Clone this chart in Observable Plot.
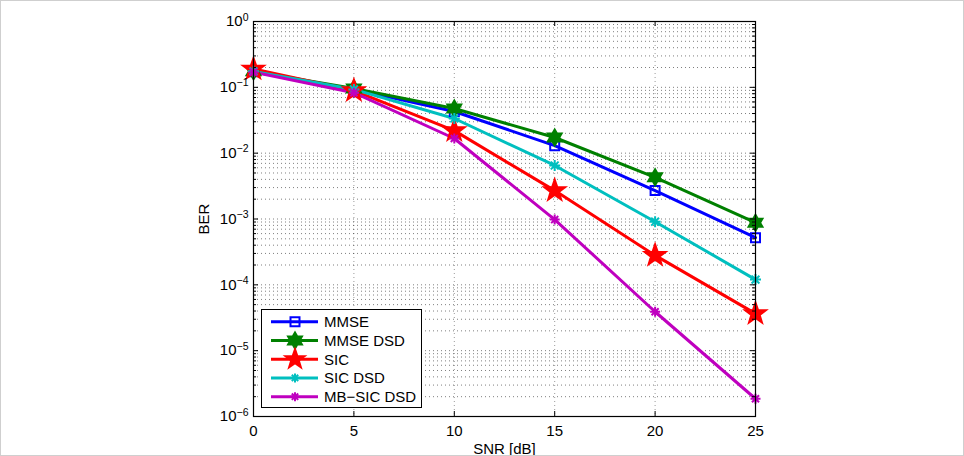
<!DOCTYPE html>
<html><head><meta charset="utf-8">
<script src="https://cdn.jsdelivr.net/npm/d3@7"></script>
<script src="https://cdn.jsdelivr.net/npm/@observablehq/plot@0.6"></script>
<style>
body{margin:0;background:#fff}
#chart svg{display:block;outline:1px solid #cfcfcf;outline-offset:-1px}
</style>
</head><body><div id="chart"></div>
<script>
// ---- data ----
const snr = [0, 5, 10, 15, 20, 25];
const mmse     = [0.172, 0.093, 0.043, 0.0130, 0.0027, 0.00052];
const mmseDsd  = [0.175, 0.096, 0.0476, 0.0173, 0.0043, 0.00088];
const sic      = [0.190, 0.089, 0.022, 0.0027, 0.00028, 0.0000365];
const sicDsd   = [0.175, 0.093, 0.0336, 0.0065, 0.00091, 0.00012];
const mbSicDsd = [0.170, 0.083, 0.0167, 0.00098, 0.000039, 0.00000186];
const seriesNames = ["MMSE", "MMSE DSD", "SIC", "SIC DSD", "MB\u2212SIC DSD"];
const seriesValues = [mmse, mmseDsd, sic, sicDsd, mbSicDsd];
const xTicks = [0, 5, 10, 15, 20, 25];
const yTicks = [1e-6, 1e-5, 1e-4, 1e-3, 1e-2, 1e-1, 1];
const xLabel = "SNR [dB]";
const yLabel = "BER";

// ---- styles ----
const colors = ["#0000ff", "#008000", "#ff0000", "#00bfbf", "#bf00bf"];
function star(n, ratio) {
  return {draw(ctx, size) {
    const R = Math.sqrt(size / Math.PI), r = R * ratio;
    for (let i = 0; i < 2 * n; i++) {
      const a = -Math.PI / 2 + i * Math.PI / n, rr = i % 2 ? r : R;
      const x = rr * Math.cos(a), y = rr * Math.sin(a);
      i ? ctx.lineTo(x, y) : ctx.moveTo(x, y);
    }
    ctx.closePath();
  }};
}
const pentagram = star(5, 0.40);
const hexagram = star(6, 0.577);
const asterisk8 = {draw(ctx, size) {
  const R = Math.sqrt(size / Math.PI);
  for (let i = 0; i < 4; i++) {
    const a = i * Math.PI / 4, c = R * Math.cos(a), s = R * Math.sin(a);
    ctx.moveTo(c, s); ctx.lineTo(-c, -s);
  }
}};
const squareSym = {draw(ctx, size) {
  const R = Math.sqrt(size / Math.PI);
  ctx.rect(-R, -R, 2 * R, 2 * R);
}};
const symbols = [squareSym, hexagram, pentagram, asterisk8, asterisk8];
const radii = [4.5, 8, 11, 5.5, 5];
const legendRadii = [4.5, 8, 10, 4.5, 4.5];
const filled = [false, true, true, false, false];

const rows = [];
seriesNames.forEach((name, i) => snr.forEach((x, j) => rows.push({series: name, snr: x, ber: seriesValues[i][j]})));

const yGrid = [];
for (let e = -6; e < 0; e++) for (let k = 1; k <= 9; k++) yGrid.push(k * Math.pow(10, e));
yGrid.push(1);
const yMinor = yGrid.filter(v => !yTicks.includes(v));

const W = 964, H = 456, mL = 253, mR = 209, mT = 21, mB = 40;
const fw = W - mL - mR, fh = H - mT - mB;
const font = "'Liberation Sans', Arial, Helvetica, sans-serif";

const marks = [
  Plot.ruleY(yGrid, {stroke: "#000", strokeOpacity: 0.5, strokeDasharray: "1,3"}),
  Plot.ruleX(xTicks, {stroke: "#000", strokeOpacity: 0.4, strokeDasharray: "1,3"}),
  Plot.line(rows, {x: "snr", y: "ber", z: "series", stroke: "series", strokeWidth: 3}),
];
seriesNames.forEach((name, i) => {
  marks.push(Plot.dot(rows.filter(d => d.series === name), {
    x: "snr", y: "ber", symbol: symbols[i], r: radii[i],
    stroke: colors[i], fill: filled[i] ? colors[i] : "none", strokeWidth: 2
  }));
});
marks.push(
  Plot.ruleY(yTicks, {stroke: "#000", insetRight: fw - 5}),
  Plot.ruleY(yTicks, {stroke: "#000", insetLeft: fw - 5}),
  Plot.ruleY(yMinor, {stroke: "#000", insetRight: fw - 3}),
  Plot.ruleY(yMinor, {stroke: "#000", insetLeft: fw - 3}),
  Plot.ruleX(xTicks, {stroke: "#000", insetTop: fh - 5}),
  Plot.ruleX(xTicks, {stroke: "#000", insetBottom: fh - 5}),
  Plot.frame({stroke: "#000", strokeWidth: 1.2}),
  Plot.axisY({ticks: yTicks, tickSize: 0, tickPadding: 5,
    tickFormat: d => "10^" + String(Math.round(Math.log10(d))).replace("-", "\u2212"),
    label: yLabel, labelAnchor: "center", labelOffset: 55, labelArrow: "none"}),
  Plot.axisX({ticks: xTicks, tickSize: 0, tickPadding: 9,
    label: xLabel, labelAnchor: "center", labelOffset: 37, labelArrow: "none"})
);

const svg = Plot.plot({
  width: W, height: H, marginLeft: mL, marginRight: mR, marginTop: mT, marginBottom: mB,
  style: {fontFamily: font, fontSize: "15px", color: "#000", background: "#fff"},
  x: {domain: [0, 25]},
  y: {type: "log", domain: [1e-6, 1]},
  color: {domain: seriesNames, range: colors},
  marks
});

// superscript exponents on the y tick labels
d3.select(svg).selectAll('g[aria-label="y-axis tick label"] text').each(function() {
  const parts = this.textContent.split("^");
  const sel = d3.select(this);
  sel.text(null);
  sel.append("tspan").text(parts[0]);
  sel.append("tspan").attr("dy", "-0.55em").style("font-size", "10.5px").text(parts[1]);
});

// legend
const lg = d3.select(svg).append("g")
  .style("font-family", font).style("font-size", "15px").style("text-anchor", "start");
lg.append("rect").attr("x", 261.5).attr("y", 309.5).attr("width", 160).attr("height", 98)
  .attr("fill", "#fff").attr("stroke", "#000");
seriesNames.forEach((name, i) => {
  const y = 321.7 + i * 18.75;
  lg.append("line").attr("x1", 271).attr("x2", 318).attr("y1", y).attr("y2", y)
    .attr("stroke", colors[i]).attr("stroke-width", 3);
  lg.append("path").attr("transform", `translate(295,${y})`)
    .attr("d", d3.symbol(symbols[i], legendRadii[i] * legendRadii[i] * Math.PI)())
    .attr("stroke", colors[i]).attr("stroke-width", 2)
    .attr("fill", filled[i] ? colors[i] : "none");
  lg.append("text").attr("x", 324).attr("y", y).attr("dy", "0.36em")
    .style("text-anchor", "start").attr("fill", "#000").text(name);
});

document.getElementById("chart").appendChild(svg);
</script>
</body></html>
